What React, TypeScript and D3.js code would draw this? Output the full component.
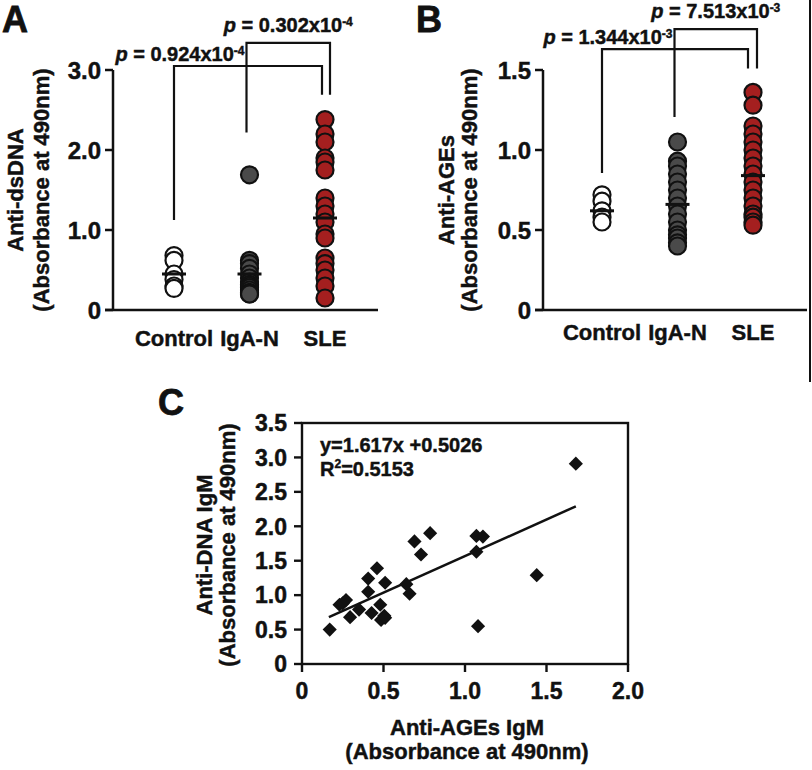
import React from 'react';
import * as d3 from 'd3';

const FONT = "'Liberation Sans', Arial, Helvetica, sans-serif";

// categories
const groups = ['Control', 'IgA-N', 'SLE'];
const groupFill = ['#ffffff', '#4a4a4a', '#a41f1f'];

// Panel A: Anti-dsDNA
const dsdnaControl = [0.68, 0.62, 0.45, 0.38, 0.3, 0.27];
const dsdnaIgAN = [1.69, 0.62, 0.58, 0.52, 0.45, 0.4, 0.35, 0.32, 0.3, 0.28, 0.25, 0.22, 0.2, 0.2];
const dsdnaSLE = [2.38, 2.2, 2.1, 1.9, 1.85, 1.75, 1.4, 1.3, 1.2, 1.1, 0.95, 0.9, 0.65, 0.58, 0.5, 0.4, 0.3, 0.15];
const dsdnaMeans = [0.45, 0.45, 1.15];
const ticksA = [0, 1, 2, 3];
const tickLabelsA = ['0', '1.0', '2.0', '3.0'];

// Panel B: Anti-AGEs
const agesControl = [0.72, 0.68, 0.62, 0.58, 0.55];
const agesIgAN = [1.05, 0.93, 0.9, 0.85, 0.8, 0.75, 0.7, 0.65, 0.6, 0.55, 0.5, 0.47, 0.45, 0.42, 0.4];
const agesSLE = [1.36, 1.28, 1.15, 1.1, 1.05, 1.0, 0.95, 0.9, 0.85, 0.8, 0.75, 0.7, 0.65, 0.6, 0.58, 0.55, 0.53];
const agesMeans = [0.62, 0.66, 0.84];
const ticksB = [0, 0.5, 1, 1.5];
const tickLabelsB = ['0', '0.5', '1.0', '1.5'];

// significance brackets (levels in data units)
const pLabelsA = ['0.924x10', '0.302x10'];
const pExpA = ['-4', '-4'];
const bracketLevelsA = [3.05, 3.34];
const bracketStartEndsA = [1.125, 2.22];
const bracketSLEEndA = 2.69;
const pLabelsB = ['1.344x10', '7.513x10'];
const pExpB = ['-3', '-3'];
const bracketLevelsB = [1.63, 1.756];
const bracketStartEndsB = [0.856, 1.206];
const bracketSLEEndB = 1.51;

// Panel C: scatter
const scatterX = [0.17, 0.23, 0.25, 0.27, 0.295, 0.35, 0.406, 0.406, 0.427, 0.46, 0.48, 0.51, 0.485, 0.505, 0.51, 0.64, 0.66, 0.69, 0.73, 0.786, 1.07, 1.11, 1.07, 1.08, 1.44, 1.68];
const scatterY = [0.5, 0.86, 0.88, 0.93, 0.68, 0.79, 1.24, 1.05, 0.74, 1.39, 0.86, 1.18, 0.64, 0.7, 0.67, 1.16, 1.02, 1.78, 1.59, 1.9, 1.86, 1.85, 1.63, 0.55, 1.29, 2.91];
const fitX = [0.165, 1.68];
const fitY = [0.68, 2.29];
const ticksCY = [0, 0.5, 1, 1.5, 2, 2.5, 3, 3.5];
const tickLabelsCY = ['0', '0.5', '1.0', '1.5', '2.0', '2.5', '3.0', '3.5'];
const ticksCX = [0, 0.5, 1, 1.5, 2];
const tickLabelsCX = ['0', '0.5', '1.0', '1.5', '2.0'];

const txt = (extra: any = {}) => ({ fontFamily: FONT, fontWeight: 700, fill: '#111', stroke: '#111', strokeWidth: 0.45, ...extra });

function DotPanel(props: any) {
  const { x0, x1, axisX, axisRight, yMax, ticks, tickLabels, series, means, title, labelBaseline,
    pLabels, pExp, levels, startEnds, sleEnd, sleDx, letter, letterX } = props;
  const x = d3.scalePoint<string>().domain(groups).range([x0, x1]);
  const y = d3.scaleLinear().domain([0, yMax]).range([310, 70]);
  const r = 8.5;
  const startX = [x('Control')!, x('IgA-N')! - 3];
  return (
    <g>
      <text x={letterX} y={32} {...txt({ fontSize: 36, strokeWidth: 0.8 })}>{letter}</text>
      {/* axes */}
      <line x1={axisX} x2={axisX} y1={y(yMax)} y2={y(0)} stroke="#111" strokeWidth={2.5} />
      <line x1={axisX - 8} x2={axisRight} y1={y(0)} y2={y(0)} stroke="#111" strokeWidth={2.5} />
      {ticks.map((t: number, i: number) => (
        <g key={i}>
          <line x1={axisX - 8} x2={axisX} y1={y(t)} y2={y(t)} stroke="#111" strokeWidth={2.5} />
          <text x={axisX - 12} y={y(t)} dy="0.36em" textAnchor="end" {...txt({ fontSize: 24 })}>{tickLabels[i]}</text>
        </g>
      ))}
      {groups.map((g, i) => (
        <text key={g} x={x(g)} y={labelBaseline} textAnchor="middle" {...txt({ fontSize: 22 })}>{g}</text>
      ))}
      {/* titles */}
      <text transform={`translate(${title.x1},190) rotate(-90)`} textAnchor="middle" {...txt({ fontSize: 22 })}>{title.t1}</text>
      <text transform={`translate(${title.x2},190) rotate(-90)`} textAnchor="middle" {...txt({ fontSize: 22 })}>(Absorbance at 490nm)</text>
      {/* brackets */}
      {levels.map((lv: number, i: number) => {
        const xs = startX[i];
        const xe = x('SLE')! + sleDx[i];
        const path = `M${xs},${y(startEnds[i])}V${y(lv)}H${xe}V${y(sleEnd)}`;
        const lx = i === 0 ? x('IgA-N')! - 5 : (xs + xe) / 2;
        const ly = y(lv) - (i === 0 ? 5 : 11);
        return (
          <g key={i}>
            <path d={path} fill="none" stroke="#111" strokeWidth={2.2} />
            <text x={lx} y={ly} textAnchor={i === 0 ? 'end' : 'middle'} {...txt({ fontSize: 20 })}>
              <tspan fontStyle="italic">p</tspan>
              <tspan> = {pLabels[i]}</tspan>
              <tspan fontSize={12} dy={-6}>{pExp[i]}</tspan>
            </text>
          </g>
        );
      })}
      {/* points */}
      {series.map((vals: number[], gi: number) => (
        <g key={gi}>
          {vals.map((v, j) => (
            <circle key={j} cx={x(groups[gi])} cy={y(v)} r={r} fill={groupFill[gi]} stroke="#111" strokeWidth={2.2} />
          ))}
          <line x1={x(groups[gi])! - 12} x2={x(groups[gi])! + 12} y1={y(means[gi])} y2={y(means[gi])} stroke="#111" strokeWidth={3} />
        </g>
      ))}
    </g>
  );
}

function ScatterPanel() {
  const x = d3.scaleLinear().domain([0, 2]).range([302, 628]);
  const y = d3.scaleLinear().domain([0, 3.5]).range([664, 423]);
  const sym = d3.symbol().type(d3.symbolSquare).size(100)();
  const line = d3.line<number>().x((d) => x(fitX[d])).y((d) => y(fitY[d]));
  return (
    <g>
      <text x={158} y={415} {...txt({ fontSize: 36, strokeWidth: 0.8 })}>C</text>
      <rect x={x(0)} y={y(3.5)} width={x(2) - x(0)} height={y(0) - y(3.5)} fill="none" stroke="#111" strokeWidth={2.4} />
      {ticksCY.map((t, i) => (
        <g key={i}>
          <line x1={x(0) - 8} x2={x(0)} y1={y(t)} y2={y(t)} stroke="#111" strokeWidth={2.4} />
          <text x={287} y={y(t)} dy="0.36em" textAnchor="end" {...txt({ fontSize: 23 })}>{tickLabelsCY[i]}</text>
        </g>
      ))}
      {ticksCX.map((t, i) => (
        <g key={i}>
          <line x1={x(t)} x2={x(t)} y1={y(0)} y2={y(0) + 8} stroke="#111" strokeWidth={2.4} />
          <text x={x(t)} y={699} textAnchor="middle" {...txt({ fontSize: 23 })}>{tickLabelsCX[i]}</text>
        </g>
      ))}
      <text x={320} y={452} {...txt({ fontSize: 20 })}>y=1.617x +0.5026</text>
      <text x={320} y={476} {...txt({ fontSize: 20 })}>
        R<tspan fontSize={12} dy={-8}>2</tspan><tspan dy={8}>=0.5153</tspan>
      </text>
      <path d={line([0, 1]) || ''} fill="none" stroke="#111" strokeWidth={2.5} />
      {scatterX.map((v, i) => (
        <path key={i} d={sym || ''} transform={`translate(${x(v)},${y(scatterY[i])}) rotate(45)`} fill="#111" />
      ))}
      <text transform="translate(212,545) rotate(-90)" textAnchor="middle" {...txt({ fontSize: 22 })}>Anti-DNA IgM</text>
      <text transform="translate(235,545) rotate(-90)" textAnchor="middle" {...txt({ fontSize: 22 })}>(Absorbance at 490nm)</text>
      <text x={467} y={735} textAnchor="middle" {...txt({ fontSize: 22 })}>Anti-AGEs IgM</text>
      <text x={467} y={759} textAnchor="middle" {...txt({ fontSize: 22 })}>(Absorbance at 490nm)</text>
    </g>
  );
}

export default function App() {
  return (
    <svg width={812} height={770} style={{ position: 'absolute', left: 0, top: 0, background: '#fff' }}>
      <rect x={0} y={0} width={812} height={770} fill="#fff" />
      <DotPanel
        x0={174} x1={325} axisX={113} axisRight={378} yMax={3} ticks={ticksA} tickLabels={tickLabelsA}
        series={[dsdnaControl, dsdnaIgAN, dsdnaSLE]} means={dsdnaMeans}
        title={{ t1: 'Anti-dsDNA', x1: 23, x2: 49 }} labelBaseline={346}
        pLabels={pLabelsA} pExp={pExpA} levels={bracketLevelsA} startEnds={bracketStartEndsA}
        sleEnd={bracketSLEEndA} sleDx={[-3, 5]} letter="A" letterX={2}
      />
      <DotPanel
        x0={602} x1={753} axisX={543} axisRight={807} yMax={1.5} ticks={ticksB} tickLabels={tickLabelsB}
        series={[agesControl, agesIgAN, agesSLE]} means={agesMeans}
        title={{ t1: 'Anti-AGEs', x1: 454, x2: 477 }} labelBaseline={340}
        pLabels={pLabelsB} pExp={pExpB} levels={bracketLevelsB} startEnds={bracketStartEndsB}
        sleEnd={bracketSLEEndB} sleDx={[-5, 4]} letter="B" letterX={416}
      />
      <line x1={810} x2={810} y1={0} y2={382} stroke="#111" strokeWidth={2} />
      <ScatterPanel />
    </svg>
  );
}
